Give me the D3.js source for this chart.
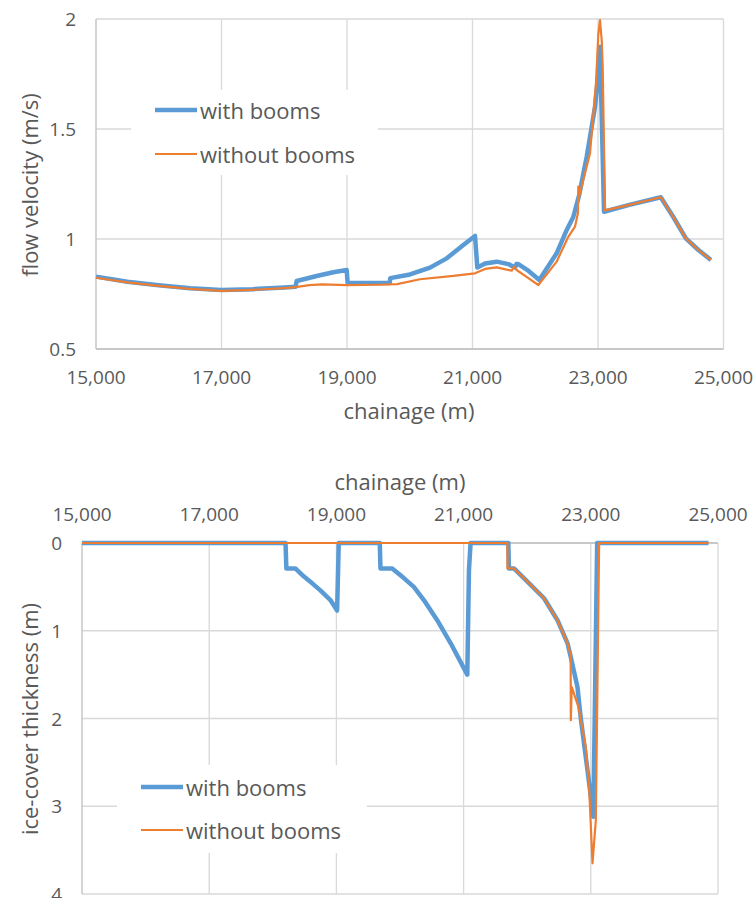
<!DOCTYPE html>
<html lang="en">
<head>
    <meta charset="UTF-8">
    <title>velocity and ice cover</title>
    <script src="https://cdn.jsdelivr.net/npm/d3@7"></script>
    <style>
        body { margin: 0; background: #fff; }
        svg text { font-family: "Open Sans", sans-serif; fill: #595959; }
    </style>
</head>
<body>
<script>
    // flow velocity (m/s)
    let velWithX = [15000, 15500, 16000, 16500, 17000, 17500, 18000, 18180, 18198, 18517, 18782, 18995, 19010, 19300, 19680, 19690, 20004, 20323, 20589, 20854, 21040, 21077, 21199, 21386, 21571, 21677, 21700, 21730, 21889, 22065, 22341, 22500, 22606, 22700, 22820, 22952, 22995, 23032, 23096, 23500, 24000, 24200, 24400, 24600, 24800];
    let velWithV = [0.829, 0.806, 0.790, 0.776, 0.768, 0.772, 0.780, 0.783, 0.809, 0.832, 0.849, 0.859, 0.800, 0.800, 0.800, 0.822, 0.839, 0.870, 0.912, 0.973, 1.014, 0.870, 0.889, 0.897, 0.886, 0.870, 0.886, 0.886, 0.856, 0.814, 0.935, 1.040, 1.100, 1.200, 1.374, 1.600, 1.720, 1.874, 1.124, 1.155, 1.190, 1.100, 1.003, 0.950, 0.905];
    let velWithoutX = [15000, 15500, 16000, 16500, 17000, 17500, 18000, 18180, 18400, 18600, 19000, 19500, 19800, 20163, 20694, 21040, 21200, 21386, 21625, 21661, 21704, 21850, 22049, 22341, 22526, 22633, 22680, 22686, 22692, 22873, 22968, 23005, 23032, 23060, 23075, 23112, 23500, 24000, 24200, 24400, 24600, 24800];
    let velWithoutV = [0.824, 0.803, 0.787, 0.773, 0.764, 0.769, 0.777, 0.781, 0.790, 0.794, 0.790, 0.792, 0.795, 0.817, 0.832, 0.844, 0.864, 0.871, 0.856, 0.874, 0.859, 0.830, 0.791, 0.897, 1.010, 1.056, 1.117, 1.238, 1.185, 1.390, 1.710, 1.930, 1.995, 1.900, 1.780, 1.130, 1.155, 1.190, 1.100, 1.003, 0.950, 0.905];

    // ice-cover thickness (m)
    let iceWithX = [15000, 18200, 18213, 18354, 18485, 18620, 18748, 18906, 19011, 19037, 19682, 19693, 19877, 20060, 20217, 20375, 20585, 20795, 21058, 21084, 21110, 21703, 21713, 21792, 22003, 22265, 22476, 22633, 22685, 22790, 22843, 22948, 23040, 23100, 24850];
    let iceWithV = [0, 0, 0.29, 0.29, 0.38, 0.46, 0.54, 0.65, 0.77, 0, 0, 0.29, 0.29, 0.40, 0.50, 0.65, 0.88, 1.14, 1.50, 0.31, 0, 0, 0.29, 0.29, 0.44, 0.63, 0.88, 1.14, 1.30, 1.64, 2.00, 2.59, 3.12, 0, 0];
    let iceWithoutX = [15000, 21688, 21690, 21792, 22003, 22265, 22476, 22633, 22683, 22686, 22700, 22806, 22921, 22973, 23027, 23079, 23131, 24850];
    let iceWithoutV = [0, 0, 0.29, 0.29, 0.44, 0.63, 0.88, 1.14, 1.28, 2.02, 1.64, 1.87, 2.32, 2.78, 3.65, 3.16, 0, 0];

    let xTicks = [15000, 17000, 19000, 21000, 23000, 25000];
    let velTicks = [0.5, 1, 1.5, 2];
    let iceTicks = [0, 1, 2, 3, 4];
    let seriesNames = ["with booms", "without booms"];

    let blue = "#5B9BD5";
    let orange = "#ED7D31";
    let grid = "#D9D9D9";

    let svg = d3.select("body")
        .append("svg")
        .attr("width", 756)
        .attr("height", 898);

    function zip(xs, vs) {
        return xs.map(function (x, i) { return {x: x, y: vs[i]}; });
    }

    function panel(opt) {
        let xScale = d3.scaleLinear().domain([15000, 25000]).range([opt.left, opt.right]);
        let yScale = d3.scaleLinear().domain(opt.yDomain).range([opt.top, opt.bottom]);
        let g = svg.append("g");

        // gridlines
        g.selectAll(".vg").data(xTicks.slice(1)).enter().append("line")
            .attr("x1", d => xScale(d)).attr("x2", d => xScale(d))
            .attr("y1", opt.top).attr("y2", opt.bottom)
            .attr("stroke", grid).attr("stroke-width", 1.3);
        g.selectAll(".hg").data(opt.yTicks).enter().append("line")
            .attr("x1", opt.left).attr("x2", opt.right)
            .attr("y1", d => yScale(d)).attr("y2", d => yScale(d))
            .attr("stroke", grid).attr("stroke-width", 1.3);

        // axis lines
        g.append("line").attr("x1", opt.left).attr("x2", opt.left)
            .attr("y1", opt.top).attr("y2", opt.bottom)
            .attr("stroke", "#BFBFBF").attr("stroke-width", 1.3);
        g.append("line").attr("x1", opt.left).attr("x2", opt.right)
            .attr("y1", opt.axisY).attr("y2", opt.axisY)
            .attr("stroke", "#BFBFBF").attr("stroke-width", 1.3);

        // tick labels
        let fmt = d3.format(",");
        g.selectAll(".xl").data(xTicks).enter().append("text")
            .text(d => fmt(d))
            .attr("x", d => xScale(d)).attr("y", opt.xLabelY)
            .attr("text-anchor", "middle").attr("dominant-baseline", "central")
            .attr("font-size", "19px");
        g.selectAll(".yl").data(opt.yTicks).enter().append("text")
            .text(d => d)
            .attr("x", opt.left - 20).attr("y", d => yScale(d))
            .attr("text-anchor", "end").attr("dominant-baseline", "central")
            .attr("font-size", "19px");

        // titles
        g.append("text").text("chainage (m)")
            .attr("x", opt.xTitleX).attr("y", opt.xTitleY)
            .attr("text-anchor", "middle").attr("dominant-baseline", "central")
            .attr("font-size", "22px");
        g.append("text").text(opt.yTitle)
            .attr("transform", "translate(29," + opt.yTitleY + ") rotate(-90)")
            .attr("text-anchor", "middle").attr("dominant-baseline", "central")
            .attr("font-size", "22px");

        // legend box
        let lg = opt.legend;
        g.append("rect").attr("x", lg.x).attr("y", lg.y)
            .attr("width", lg.w).attr("height", lg.h).attr("fill", "#fff");

        let line = d3.line()
            .x(d => xScale(d.x))
            .y(d => yScale(d.y));

        g.append("path").attr("d", line(opt.withData))
            .attr("fill", "none").attr("stroke", blue)
            .attr("stroke-width", 4.5).attr("stroke-linejoin", "round");
        g.append("path").attr("d", line(opt.withoutData))
            .attr("fill", "none").attr("stroke", orange)
            .attr("stroke-width", 2.2).attr("stroke-linejoin", "round");

        // legend entries
        [blue, orange].forEach(function (c, i) {
            let yy = lg.rowY[i];
            g.append("line").attr("x1", lg.lineX).attr("x2", lg.lineX + 42)
                .attr("y1", yy).attr("y2", yy)
                .attr("stroke", c).attr("stroke-width", i === 0 ? 4.5 : 2.2);
            g.append("text").text(seriesNames[i])
                .attr("x", lg.lineX + 45).attr("y", yy)
                .attr("dominant-baseline", "central")
                .attr("font-size", "22px");
        });
    }

    panel({
        left: 96, right: 723.5, top: 19, bottom: 349,
        yDomain: [2, 0.5], yTicks: velTicks, axisY: 349,
        xLabelY: 377, xTitleX: 409, xTitleY: 410,
        yTitle: "flow velocity (m/s)", yTitleY: 185,
        legend: {x: 131, y: 90, w: 247, h: 85, lineX: 155, rowY: [110, 154]},
        withData: zip(velWithX, velWithV),
        withoutData: zip(velWithoutX, velWithoutV)
    });

    panel({
        left: 82, right: 718, top: 543, bottom: 894,
        yDomain: [0, 4], yTicks: iceTicks, axisY: 543,
        xLabelY: 514, xTitleX: 400, xTitleY: 481,
        yTitle: "ice-cover thickness (m)", yTitleY: 719,
        legend: {x: 117, y: 765, w: 250, h: 88, lineX: 141, rowY: [787, 830]},
        withData: zip(iceWithX, iceWithV),
        withoutData: zip(iceWithoutX, iceWithoutV)
    });
</script>
</body>
</html>
